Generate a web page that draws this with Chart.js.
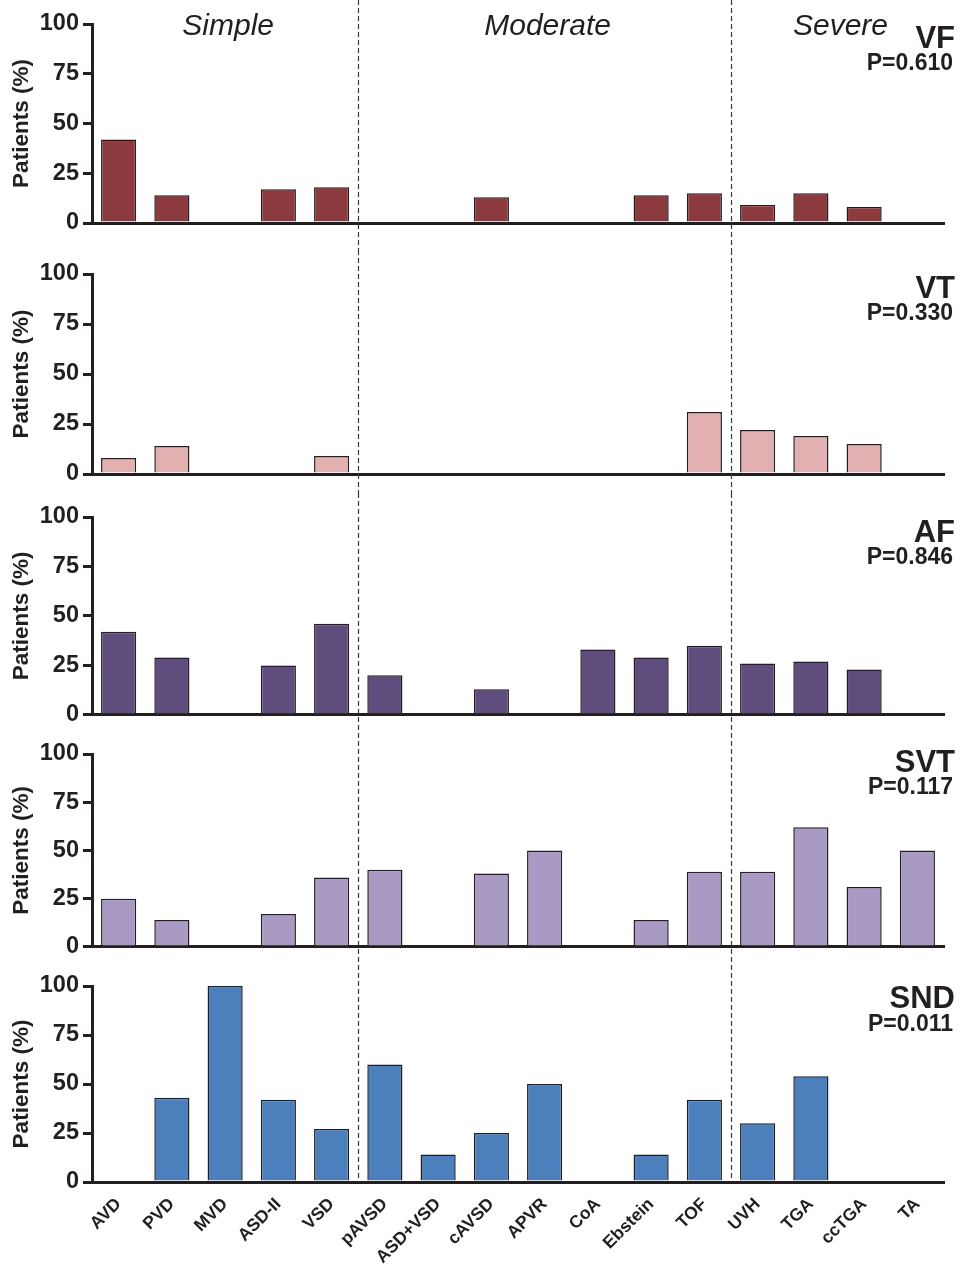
<!DOCTYPE html>
<html lang="en">
<head>
  <meta charset="UTF-8" />
  <title>Arrhythmia by congenital defect</title>
  <script src="https://cdn.jsdelivr.net/npm/chart.js"></script>
  <style>
    html, body { margin: 0; padding: 0; background: #fff; }
    #fig { position: relative; width: 963px; height: 1271px; overflow: hidden; }
    #fig canvas { position: absolute; left: 0; }
  </style>
</head>
<body>
  <div id="fig"></div>

  <script>
    const categories = ['AVD', 'PVD', 'MVD', 'ASD-II', 'VSD', 'pAVSD', 'ASD+VSD', 'cAVSD',
      'APVR', 'CoA', 'Ebstein', 'TOF', 'UVH', 'TGA', 'ccTGA', 'TA'];

    // % of patients with each arrhythmia, per defect
    const vf  = [42, 14, 0, 17, 18, 0, 0, 13, 0, 0, 14, 15, 9, 15, 8, 0];
    const vt  = [8, 14, 0, 0, 9, 0, 0, 0, 0, 0, 0, 31, 22, 19, 15, 0];
    const af  = [42, 29, 0, 25, 46, 20, 0, 13, 0, 33, 29, 35, 26, 27, 23, 0];
    const svt = [25, 14, 0, 17, 36, 40, 0, 38, 50, 0, 14, 39, 39, 62, 31, 50];
    const snd = [0, 43, 100, 42, 27, 60, 14, 25, 50, 0, 14, 42, 30, 54, 0, 0];

    const arrhythmias = ['VF', 'VT', 'AF', 'SVT', 'SND'];
    const pValues = ['P=0.610', 'P=0.330', 'P=0.846', 'P=0.117', 'P=0.011'];

    const groups = ['Simple', 'Moderate', 'Severe'];
    const groupSpans = [[0, 4], [5, 11], [12, 15]];

    const yTicks = [0, 25, 50, 75, 100];

    const FONT = "'Liberation Sans', Arial, Helvetica, sans-serif";
    const INK = '#231f20';

    // canvas box and plot box for each stacked panel
    const panels = [
      { data: vf,  fill: '#8c3a3e', top: 0,   plotTop: 24,  plotBottom: 223,  bottom: 250,  nameY: 48,   pY: 70 },
      { data: vt,  fill: '#e2b0b0', top: 250, plotTop: 274, plotBottom: 474,  bottom: 493,  nameY: 298,  pY: 320 },
      { data: af,  fill: '#5e4d7d', top: 493, plotTop: 517, plotBottom: 716,  bottom: 733,  nameY: 542,  pY: 564 },
      { data: svt, fill: '#a99ac3', top: 733, plotTop: 754, plotBottom: 953,  bottom: 965,  nameY: 772,  pY: 794 },
      { data: snd, fill: '#4b80bd', top: 965, plotTop: 986, plotBottom: 1182, bottom: 1271, nameY: 1008, pY: 1031 }
    ];

    // dashed separators between defect complexity groups, running through every panel
    const dividerPlugin = {
      id: 'dividers',
      beforeDatasetsDraw(chart, args, opts) {
        const { ctx, scales: { x } } = chart;
        const yEnd = opts.last ? chart.chartArea.bottom : chart.height;
        ctx.save();
        ctx.strokeStyle = '#3a3a3a';
        ctx.lineWidth = 1.2;
        ctx.setLineDash([5, 3]);
        groupSpans.slice(0, -1).forEach(([, end]) => {
          const px = Math.round((x.getPixelForValue(end) + x.getPixelForValue(end + 1)) / 2) + 0.5;
          ctx.beginPath();
          ctx.moveTo(px, 0);
          ctx.lineTo(px, yEnd);
          ctx.stroke();
        });
        ctx.restore();
      }
    };

    // arrhythmia name + p value in the top right, group names over the first panel
    const labelPlugin = {
      id: 'panelLabels',
      afterDraw(chart, args, opts) {
        const { ctx, scales: { x } } = chart;
        ctx.save();
        ctx.fillStyle = INK;
        ctx.textAlign = 'right';
        ctx.textBaseline = 'alphabetic';
        ctx.font = `bold 31px ${FONT}`;
        ctx.fillText(opts.name, 955, opts.nameY);
        ctx.font = `bold 23px ${FONT}`;
        ctx.fillText(opts.p, 953, opts.pY);
        if (opts.groups) {
          ctx.textAlign = 'center';
          ctx.font = `italic 30px ${FONT}`;
          groups.forEach((g, i) => {
            const [a, b] = groupSpans[i];
            const cx = (x.getPixelForValue(a) + x.getPixelForValue(b)) / 2;
            ctx.fillText(g, cx + 3, 35);
          });
        }
        ctx.restore();
      }
    };

    const fig = document.getElementById('fig');

    panels.forEach((p, i) => {
      const last = i === panels.length - 1;
      const canvas = document.createElement('canvas');
      const h = p.bottom - p.top;
      canvas.width = 963;
      canvas.height = h;
      canvas.style.top = p.top + 'px';
      canvas.style.width = '963px';
      canvas.style.height = h + 'px';
      fig.appendChild(canvas);

      new Chart(canvas, {
        type: 'bar',
        data: {
          labels: categories,
          datasets: [{
            data: p.data,
            backgroundColor: p.fill,
            borderColor: INK,
            borderWidth: 1.5,
            barPercentage: 0.66,
            categoryPercentage: 1,
            clip: false
          }]
        },
        options: {
          responsive: false,
          maintainAspectRatio: false,
          animation: false,
          devicePixelRatio: 1,
          layout: { padding: { top: p.plotTop - p.top, left: 0, right: 19, bottom: 0 } },
          plugins: {
            legend: { display: false },
            tooltip: { enabled: false },
            dividers: { last },
            panelLabels: { name: arrhythmias[i], p: pValues[i], nameY: p.nameY - p.top, pY: p.pY - p.top, groups: i === 0 }
          },
          scales: {
            x: {
              z: 1,
              grid: { display: false, drawTicks: false },
              border: { display: true, color: INK, width: 3 },
              ticks: {
                display: last,
                autoSkip: false,
                minRotation: 45,
                maxRotation: 45,
                padding: 12,
                color: INK,
                font: { family: FONT, size: 17.5, weight: 'bold' }
              },
              afterFit(scale) { scale.height = p.bottom - p.plotBottom; }
            },
            y: {
              min: 0,
              max: 100,
              afterBuildTicks(scale) { scale.ticks = yTicks.map(v => ({ value: v })); },
              grid: { display: true, drawOnChartArea: false, drawTicks: true, tickLength: 9, lineWidth: 3, color: INK },
              border: { display: true, color: INK, width: 3 },
              ticks: {
                padding: 4,
                color: INK,
                font: { family: FONT, size: 23.5, weight: 'bold' }
              },
              title: {
                display: true,
                text: 'Patients (%)',
                color: INK,
                padding: { top: 8, bottom: 0 },
                font: { family: FONT, size: 22.5, weight: 'bold' }
              },
              afterFit(scale) { scale.width = 92; }
            }
          }
        },
        plugins: [dividerPlugin, labelPlugin]
      });
    });
  </script>
</body>
</html>
